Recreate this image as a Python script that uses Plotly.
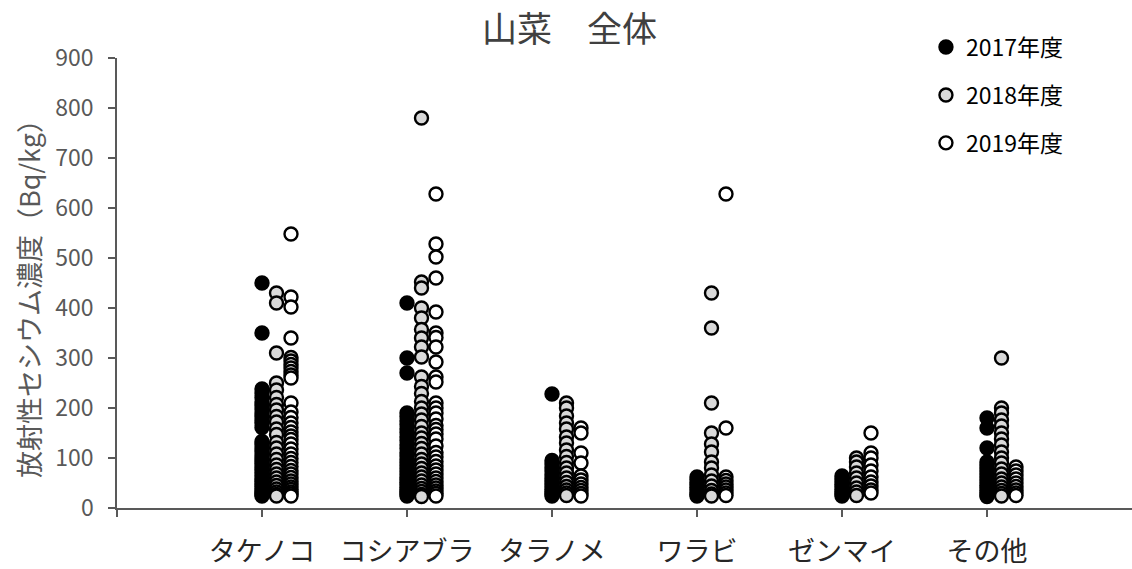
import plotly.graph_objects as go

# Category labels along the x axis
categories = ["タケノコ", "コシアブラ", "タラノメ", "ワラビ", "ゼンマイ", "その他"]
years = ["2017年度", "2018年度", "2019年度"]

# Radiocaesium concentration (Bq/kg) per sample, by category and fiscal year
takenoko_2017 = [450, 350, 238, 230, 221, 212, 205, 198, 190, 183, 176, 170, 161, 133, 127,
                 120, 113, 106, 99, 93, 88, 81, 76, 70, 64, 58, 53, 48, 43, 38, 34, 30, 27, 24]
takenoko_2018 = [430, 410, 310, 250, 236, 221, 207, 196, 183, 172, 158, 147, 131, 120, 108,
                 97, 86, 77, 68, 60, 52, 45, 38, 32, 27, 24]
takenoko_2019 = [548, 422, 402, 340, 301, 294, 287, 280, 273, 266, 260, 210, 192, 181, 170,
                 161, 152, 144, 137, 128, 118, 108, 99, 91, 83, 75, 68, 61, 54, 48, 42, 37,
                 32, 28, 24]

koshiabura_2017 = [410, 300, 270, 190, 183, 174, 167, 158, 151, 142, 135, 126, 119, 111, 104,
                   97, 91, 85, 79, 73, 67, 61, 56, 51, 46, 41, 36, 32, 28, 24]
koshiabura_2018 = [780, 452, 440, 400, 380, 357, 340, 322, 302, 262, 243, 229, 213, 200, 188,
                   176, 163, 150, 140, 129, 119, 108, 97, 88, 79, 70, 62, 54, 46, 39, 33, 27, 23]
koshiabura_2019 = [628, 528, 502, 460, 392, 350, 341, 322, 292, 262, 252, 210, 200, 190, 178,
                   165, 157, 148, 138, 124, 111, 102, 93, 84, 76, 68, 60, 53, 46, 40, 34, 29, 24]

taranome_2017 = [228, 95, 88, 81, 74, 67, 60, 54, 48, 42, 37, 32, 28, 24]
taranome_2018 = [210, 200, 184, 170, 158, 142, 130, 116, 103, 91, 80, 70, 60, 51, 43, 36, 30, 25]
taranome_2019 = [160, 150, 110, 90, 64, 56, 48, 41, 35, 29, 24]

warabi_2017 = [62, 57, 51, 46, 41, 36, 31, 27, 24]
warabi_2018 = [430, 360, 210, 150, 128, 112, 92, 80, 66, 54, 44, 35, 28, 24]
warabi_2019 = [628, 160, 62, 55, 48, 42, 36, 30, 25]

zenmai_2017 = [64, 58, 52, 47, 42, 37, 32, 28, 24]
zenmai_2018 = [100, 92, 82, 70, 60, 50, 40, 32, 25]
zenmai_2019 = [150, 110, 100, 86, 74, 62, 52, 44, 36, 30]

sonota_2017 = [180, 160, 120, 92, 86, 80, 74, 68, 62, 56, 50, 45, 40, 35, 30, 26, 23]
sonota_2018 = [300, 200, 190, 176, 164, 150, 138, 126, 112, 100, 90, 78, 68, 58, 50, 42, 35,
               29, 24]
sonota_2019 = [82, 74, 66, 58, 50, 43, 36, 30, 25]

series = {
    "2017年度": [takenoko_2017, koshiabura_2017, taranome_2017, warabi_2017, zenmai_2017, sonota_2017],
    "2018年度": [takenoko_2018, koshiabura_2018, taranome_2018, warabi_2018, zenmai_2018, sonota_2018],
    "2019年度": [takenoko_2019, koshiabura_2019, taranome_2019, warabi_2019, zenmai_2019, sonota_2019],
}

# Each year sits in its own narrow column to the right of the category tick
offsets = {"2017年度": 0.0, "2018年度": 0.1, "2019年度": 0.2}
fills = {"2017年度": "#000000", "2018年度": "#d9d9d9", "2019年度": "#ffffff"}

FONT = "Noto Sans CJK JP"

fig = go.Figure()
for i, year in enumerate(years):
    xs, ys = [], []
    for c, vals in enumerate(series[year]):
        xs += [c + 1 + offsets[year]] * len(vals)
        ys += vals
    fig.add_trace(go.Scatter(
        x=xs, y=ys, mode="markers", name=year, legendgroup=year,
        marker=dict(symbol="circle", size=13, color=fills[year],
                    line=dict(color="#000000", width=2.4)),
        cliponaxis=False,
    ))

fig.update_layout(
    width=1132, height=569,
    margin=dict(l=117, r=0, t=58, b=61),
    paper_bgcolor="white", plot_bgcolor="white",
    font=dict(family=FONT, color="#404040"),
    title=dict(text="山菜　全体", x=0.503, xanchor="center", y=0.948, yanchor="middle",
               font=dict(family=FONT, size=35, color="#404040")),
    showlegend=True,
    legend=dict(x=0.797, xanchor="left", y=1.072, yanchor="top",
                font=dict(family=FONT, size=23, color="#000000"),
                tracegroupgap=15, bgcolor="rgba(0,0,0,0)", itemwidth=30),
)

fig.update_xaxes(
    range=[0, 7],
    tickvals=list(range(0, 7)),
    ticktext=[""] + categories,
    ticks="outside", ticklen=7, tickwidth=1.5, tickcolor="#595959",
    showline=True, linecolor="#595959", linewidth=1.5,
    showgrid=False, zeroline=False,
    tickfont=dict(family=FONT, size=27, color="#262626"),
    ticklabelstandoff=12,
)
fig.update_yaxes(
    range=[0, 900], dtick=100,
    ticks="outside", ticklen=7, tickwidth=1.5, tickcolor="#595959",
    showline=True, linecolor="#595959", linewidth=1.5,
    showgrid=False, zeroline=False,
    tickfont=dict(family=FONT, size=23, color="#595959"),
    ticklabelstandoff=10,
)

fig.add_annotation(
    text="放射性セシウム濃度（Bq/kg）", textangle=-90,
    xref="paper", yref="paper", x=(28 - 117) / 1015, y=(508 - 292) / 450,
    xanchor="center", yanchor="middle", showarrow=False,
    font=dict(family=FONT, size=27, color="#595959"),
)

fig.write_html("out.html")
